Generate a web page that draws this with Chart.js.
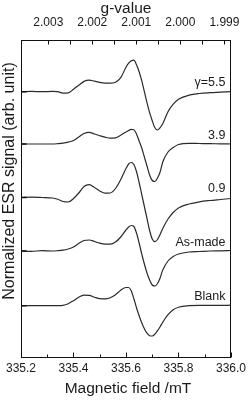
<!DOCTYPE html>
<html>
<head>
<meta charset="utf-8">
<script src="https://cdn.jsdelivr.net/npm/chart.js@4.4.1/dist/chart.umd.min.js"></script>
<style>
html,body{margin:0;padding:0;background:#fff;}
#c{display:block;}
</style>
</head>
<body>
<canvas id="c" width="250" height="400" style="width:250px;height:400px"></canvas>
<script>
// Magnetic field grid (mT)
const field = [335.20, 335.24, 335.28, 335.32, 335.34, 335.36, 335.38, 335.40, 335.42, 335.44,
  335.46, 335.48, 335.50, 335.52, 335.54, 335.56, 335.58, 335.60, 335.61, 335.62,
  335.63, 335.64, 335.65, 335.66, 335.67, 335.68, 335.69, 335.70, 335.71, 335.72,
  335.73, 335.74, 335.76, 335.78, 335.80, 335.84, 335.88, 335.92, 335.96, 336.00];

// Spectra (arb. units, relative to each trace baseline)
const gamma55 = [0, 0.3, 0, 0.3, 0, -1.4, -1.2, 2.5, 6.5, 10.3,
  11.6, 10.5, 9.3, 8.6, 8.5, 9.5, 14, 24.5, 28.5, 31,
  31.5, 27, 20, 11, 0, -11, -21, -29, -36, -38.3,
  -36, -32, -20, -12.5, -7.5, -3.5, -1.8, -1, -0.5, 0];
const gamma39 = [0, 0, 0, 0, 0.3, 0.8, 1.8, 3.5, 7, 10.5,
  11.6, 10, 8.3, 6.8, 5.8, 6.2, 8.8, 12, 13.5, 14.6,
  14.3, 10, 3, -4, -13, -22, -31, -36.5, -37.5, -34,
  -28, -18, -8, -3.5, -0.5, 0.7, 0.5, 0.3, 0.2, 0];
const gamma09 = [0, 0.3, 0, -0.5, -1.8, -4, -4.5, -1, 4.5, 11,
  12.8, 10, 6.5, 4.3, 4.5, 9, 18, 29, 33.5, 35,
  33, 26, 15, 3, -9, -21, -33, -41.5, -44.2, -42,
  -37, -31, -21.5, -15, -10.5, -6.5, -4.3, -3, -2, -1];
const asMade = [0, -0.3, 0.3, 0, 0.3, 0.8, 2, 4, 7.5, 10.5,
  11, 9.5, 7.8, 6.8, 6.8, 9, 14, 21, 24, 25.5,
  24.5, 18, 8, -3, -13, -22, -29, -34, -35, -32.5,
  -27, -19, -10, -5.5, -3, -1, -0.5, 0, 0.2, 0.5];
const blank = [0, 0, 0, 0, 0, 0.3, 2, 5, 8.5, 10.5,
  10.3, 8.5, 7, 6.8, 8, 11, 15.5, 18.2, 18.2, 15,
  7, -2, -10, -17, -23, -27.5, -30, -30.3, -28.5, -25,
  -21, -16.5, -9, -4, -1.5, 0, 0.3, 0.3, 0.3, 0.5];

const seriesNames = ['γ=5.5', '3.9', '0.9', 'As-made', 'Blank'];
const seriesValues = [gamma55, gamma39, gamma09, asMade, blank];
const seriesOffsets = [266.3, 214, 160.5, 107, 52.3];

// Axis ticks
const fieldMajor = [335.2, 335.4, 335.6, 335.8, 336.0];
const fieldMinor = [335.3, 335.5, 335.7, 335.9];
const gMajor = [2.003, 2.002, 2.001, 2.000, 1.999];
const gMinor = [2.0025, 2.0015, 2.0005, 1.9995];
const gB = 671.614; // g × B (mT) for the spectrometer frequency

const FONT = "'Liberation Sans', Arial, Helvetica, sans-serif";
const TXT = '#1a1a1a';

const datasets = seriesValues.map((vals, k) => ({
  label: seriesNames[k],
  data: field.map((b, i) => ({x: b, y: seriesOffsets[k] + vals[i]})),
  borderColor: '#2b2b2b',
  borderWidth: 1.2,
  pointRadius: 0,
  fill: false,
  cubicInterpolationMode: 'monotone'
}));

const decor = {
  id: 'decor',
  afterDraw(chart) {
    const {ctx, chartArea: a, scales} = chart;
    const sx = scales.x, sy = scales.y;
    ctx.save();
    ctx.strokeStyle = '#111';
    ctx.lineWidth = 1;
    const L = Math.round(a.left) + 0.5, R = Math.round(a.right) - 0.5;
    const T = Math.round(a.top) + 0.5, B = Math.round(a.bottom) - 0.5;
    ctx.strokeRect(L, T, R - L, B - T);
    ctx.beginPath();
    fieldMajor.forEach(v => { const p = Math.round(sx.getPixelForValue(v)) + 0.5; ctx.moveTo(p, B); ctx.lineTo(p, B - 5); });
    fieldMinor.forEach(v => { const p = Math.round(sx.getPixelForValue(v)) + 0.5; ctx.moveTo(p, B); ctx.lineTo(p, B - 3); });
    gMajor.forEach(g => { const p = Math.round(sx.getPixelForValue(gB / g)) + 0.5; ctx.moveTo(p, T); ctx.lineTo(p, T + 4); });
    gMinor.forEach(g => { const p = Math.round(sx.getPixelForValue(gB / g)) + 0.5; ctx.moveTo(p, T); ctx.lineTo(p, T + 4); });
    ctx.stroke();
    ctx.lineWidth = 1.6;
    ctx.beginPath();
    seriesOffsets.forEach(o => { const p = sy.getPixelForValue(o); ctx.moveTo(L, p); ctx.lineTo(L + 5, p); });
    ctx.stroke();

    ctx.fillStyle = TXT;
    // series labels
    ctx.font = '12.5px ' + FONT;
    ctx.textAlign = 'right';
    ctx.textBaseline = 'alphabetic';
    seriesNames.forEach((n, k) => {
      ctx.fillText(n, a.right - 5.5, sy.getPixelForValue(seriesOffsets[k]) - 5.5);
    });
    // axis titles
    ctx.font = '15.5px ' + FONT;
    ctx.textAlign = 'center';
    ctx.fillText('g-value', (a.left + a.right) / 2, 12.5);
    ctx.fillText('Magnetic field /mT', (a.left + a.right) / 2 + 2, 393);
    ctx.save();
    ctx.translate(13.5, 181);
    ctx.rotate(-Math.PI / 2);
    ctx.font = '16px ' + FONT;
    ctx.fillText('Normalized ESR signal (arb. unit)', 0, 0);
    ctx.restore();
    ctx.restore();
  }
};

new Chart(document.getElementById('c'), {
  type: 'line',
  data: {datasets},
  plugins: [decor],
  options: {
    responsive: false,
    animation: false,
    devicePixelRatio: 1,
    layout: {padding: {left: 0, right: 18, top: 0, bottom: 0}},
    plugins: {legend: {display: false}, tooltip: {enabled: false}},
    scales: {
      x: {
        type: 'linear', position: 'bottom', min: 335.2, max: 336.0,
        afterBuildTicks: s => { s.ticks = fieldMajor.map(v => ({value: v})); },
        afterFit: s => { s.height = 42; },
        grid: {display: false, drawTicks: false},
        border: {display: false},
        ticks: {autoSkip: false, maxRotation: 0, padding: 3, color: TXT,
          font: {family: FONT, size: 12}, callback: v => Number(v).toFixed(1)}
      },
      x2: {
        type: 'linear', position: 'top', min: 335.2, max: 336.0,
        afterBuildTicks: s => { s.ticks = gMajor.map(g => ({value: gB / g})); },
        afterFit: s => { s.height = 40; },
        grid: {display: false, drawTicks: false},
        border: {display: false},
        ticks: {autoSkip: false, maxRotation: 0, padding: 10, color: TXT,
          font: {family: FONT, size: 12}, callback: v => (gB / v).toFixed(3)}
      },
      y: {
        type: 'linear', position: 'left', min: 0, max: 318,
        afterFit: s => { s.width = 21; },
        grid: {display: false, drawTicks: false},
        border: {display: false},
        ticks: {display: false}
      }
    }
  }
});
</script>
</body>
</html>
